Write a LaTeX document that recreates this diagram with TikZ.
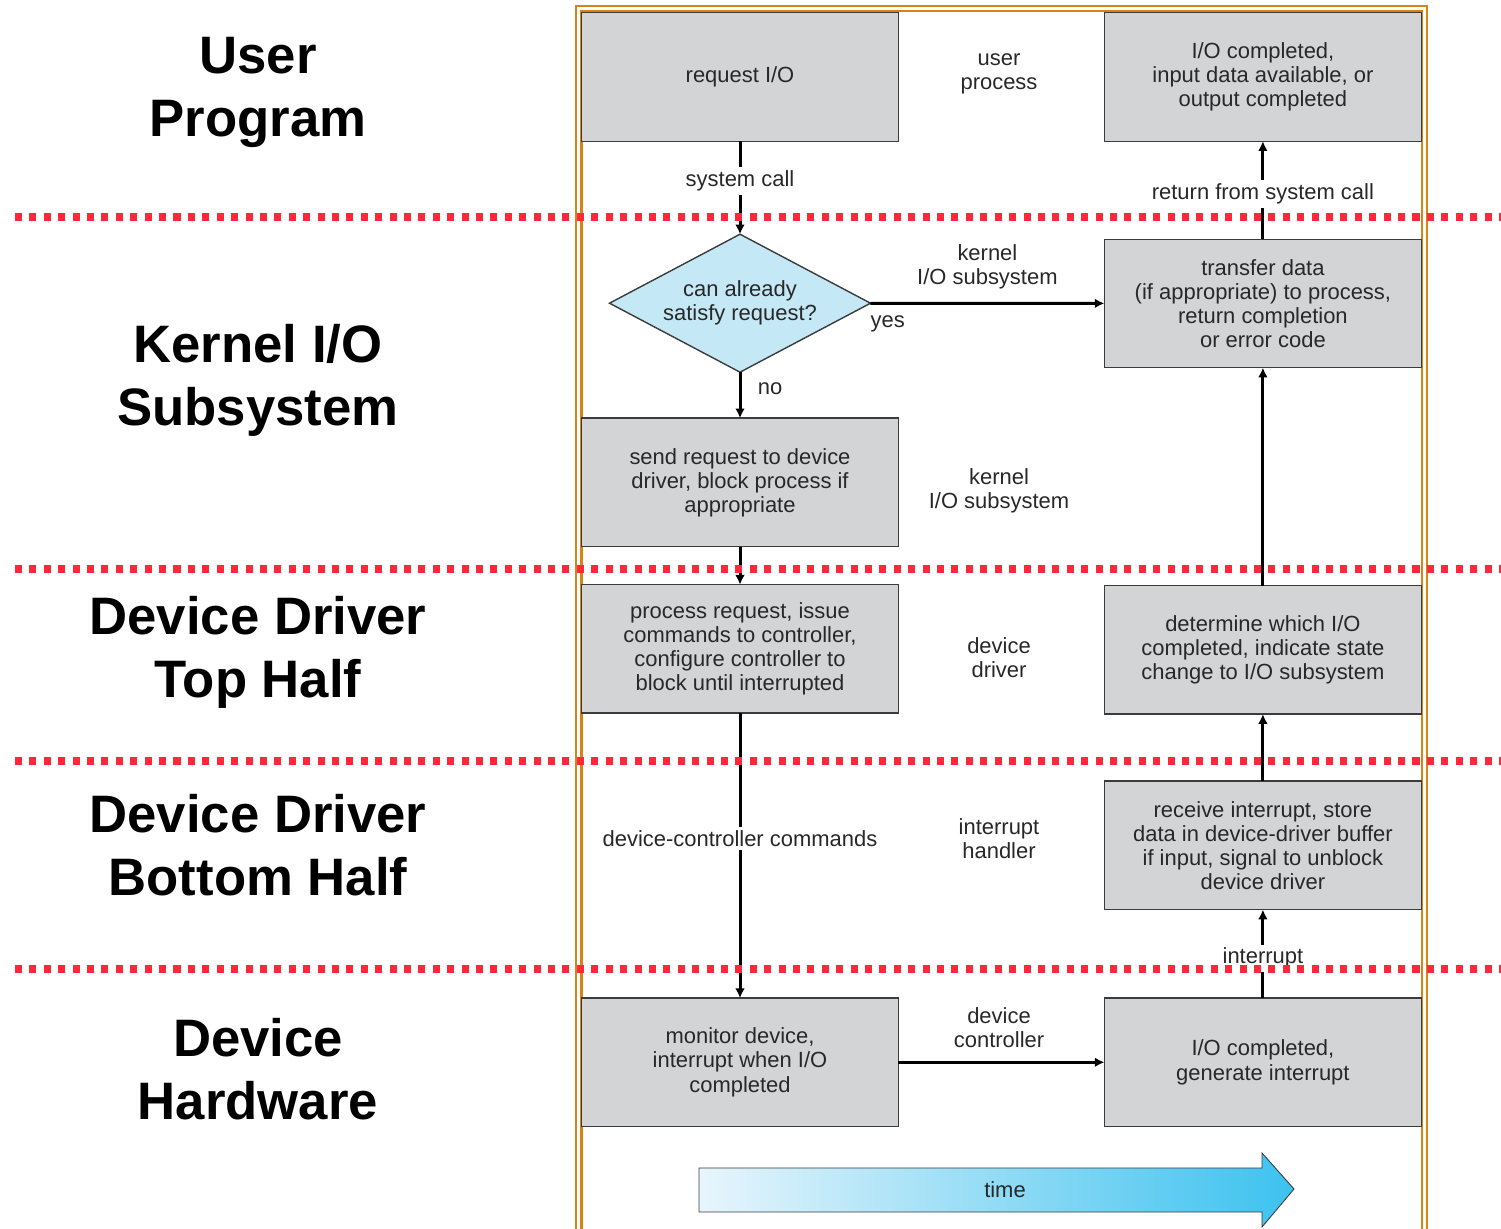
\documentclass[tikz,border=0pt]{standalone}
\usepackage{fontspec}
\setmainfont{Liberation Sans}
\usetikzlibrary{arrows.meta,positioning,shapes.geometric}

\definecolor{boxgray}{RGB}{211,212,214}
\definecolor{boxline}{RGB}{60,60,60}
\definecolor{txtgray}{RGB}{40,40,40}
\definecolor{framebrown}{RGB}{214,132,20}
\definecolor{dotred}{RGB}{255,40,58}
\definecolor{askblue}{RGB}{197,232,247}
\definecolor{timelight}{RGB}{232,245,252}
\definecolor{timemid}{RGB}{196,233,248}
\definecolor{timedark}{RGB}{60,194,239}

\begin{document}
\begin{tikzpicture}[x=0.02cm,y=-0.02cm,>={Latex[length=5.5pt,width=5.5pt]},node distance=10mm,
  stage/.style={draw=boxline,line width=0.8pt,fill=boxgray,minimum width=6.34cm,minimum height=2.57cm,
    inner sep=2pt,outer sep=0pt,align=center,text=txtgray,font=\fontsize{12.5}{13.7}\selectfont},
  ask/.style={diamond,draw=boxline,line width=0.8pt,fill=askblue,aspect=1.88,minimum width=5.22cm,
    minimum height=2.76cm,inner sep=0pt,outer sep=0pt,align=center,text=txtgray,font=\fontsize{12.5}{13.7}\selectfont},
  note/.style={align=center,text=txtgray,font=\fontsize{12.5}{13.7}\selectfont},
  gap/.style={note,fill=white,inner sep=2pt},
  layer/.style={align=center,font=\fontsize{30}{35.7}\selectfont\bfseries},
  boundary/.style={dotred,line width=4.5pt,dash pattern=on 4pt off 4.2pt},
  flow/.style={->,every edge/.style={draw,line width=1.7pt}}]

    \useasboundingbox (0,0) rectangle (1501,1229);

    % double frame round the flow
    \draw[framebrown,line width=1.2pt] (576,1229) -- (576,6) -- (1427,6) -- (1427,1229);
    \draw[framebrown,line width=1.2pt] (581.5,1229) -- (581.5,11) -- (1422,11) -- (1422,1229);

    % layer names
    \node[layer] (user) at (258,92.5) {User\\ Program};
    \node[layer] (kern) at (258,380.5) {Kernel I/O\\ Subsystem};
    \node[layer] (top) at (258,652.5) {Device Driver\\ Top Half};
    \node[layer] (bottom) at (258,845.5) {Device Driver\\ Bottom Half};
    \node[layer] (hw) at (258,1069) {Device\\ Hardware};

    % request path
    \node[stage] (req) at (740,77) {request I/O};
    \node[ask] (dia) [below=1.86cm of req] {can already\\ satisfy request?};
    \node[stage] (send) [below=0.92cm of dia] {send request to device\\ driver, block process if\\ appropriate};
    \node[stage] (proc) [below=0.76cm of send] {process request, issue\\ commands to controller,\\ configure controller to\\ block until interrupted};
    \node[stage] (mon) [below=5.7cm of proc] {monitor device,\\ interrupt when I/O\\ completed};

    % completion path
    \node[stage] (done) [right=4.12cm of req] {I/O completed,\\ input data available, or\\ output completed};
    \node[stage] (xfer) [below=1.96cm of done] {transfer data\\ (if appropriate) to process,\\ return completion\\ or error code};
    \node[stage] (which) [below=4.36cm of xfer] {determine which I/O\\ completed, indicate state\\ change to I/O subsystem};
    \node[stage] (recv) [below=1.34cm of which] {receive interrupt, store\\ data in device-driver buffer\\ if input, signal to unblock\\ device driver};
    \node[stage] (fin) [right=4.12cm of mon] {I/O completed,\\ generate interrupt};

    % who does the work
    \node[note] (who1) at (999,74) {user\\ process};
    \node[note] (who2) at (999,491) {kernel\\ I/O subsystem};
    \node[note] (who3) at (999,658) {device\\ driver};
    \node[note] (who4) at (999,839) {interrupt\\ handler};
    \node[note] (who5) at (999,1028) {device\\ controller};

    \path[flow] (req) edge node[gap,pos=0.43] {system call} (dia)
                (dia) edge node[note,above=4pt] {kernel\\ I/O subsystem}
                           node[note,pos=0,anchor=north west,xshift=-4pt,yshift=-3pt] {yes} (xfer)
                      edge node[note,right=6pt,pos=0.35] {no} (send)
                (send) edge (proc)
                (proc) edge node[gap,pos=0.44] {device-controller commands} (mon)
                (mon) edge (fin)
                (fin) edge node[gap,pos=0.45] {interrupt} (recv)
                (recv) edge (which)
                (which) edge (xfer)
                (xfer) edge node[gap,pos=0.46] {return from system call} (done);

    % time arrow
    \shadedraw[left color=timelight,middle color=timemid,right color=timedark,draw=boxline,line width=0.5pt]
      (699,1168) -- (1262,1168) -- (1262,1153) -- (1294,1189) -- (1262,1227) -- (1262,1212) -- (699,1212) -- cycle;
    \node[note] (time) at (1005,1190) {time};

    % layer boundaries
    \foreach \y in {217,569,761,969}
      \draw[boundary] (15,\y) -- (1501,\y);

\end{tikzpicture}
\end{document}
